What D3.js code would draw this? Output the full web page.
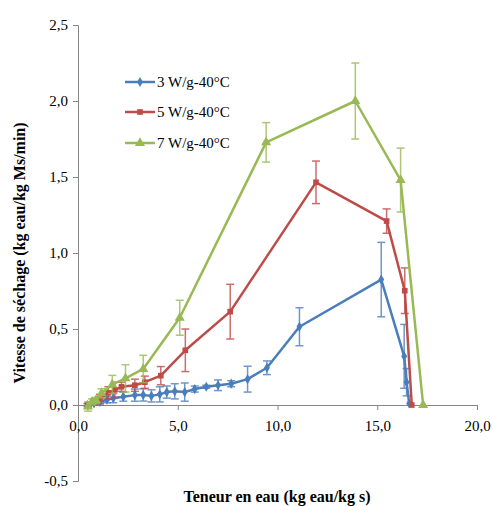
<!DOCTYPE html>
<html><head><meta charset="utf-8">
<script src="https://cdn.jsdelivr.net/npm/d3@7"></script>
<style>
body{margin:0;background:#fff;}
svg text{font-family:"Liberation Serif","Times New Roman",serif !important;fill:#000;}
</style></head>
<body><svg id="c" width="493" height="506"></svg>
<script>
// ---- data ----
const seriesNames = ["3 W/g-40°C", "5 W/g-40°C", "7 W/g-40°C"];
const xTicks = [0, 5, 10, 15, 20];
const yTicks = [-0.5, 0, 0.5, 1.0, 1.5, 2.0, 2.5];

const x3 = [0.47, 0.8, 1.1, 1.45, 1.77, 2.27, 2.85, 3.27, 3.68, 4.1, 4.45, 4.85, 5.35, 5.85, 6.43, 7.02, 7.68, 8.5, 9.47, 11.1, 15.2, 16.35, 16.47, 16.6];
const y3 = [0.0, 0.01, 0.02, 0.035, 0.045, 0.055, 0.065, 0.066, 0.06, 0.07, 0.085, 0.09, 0.085, 0.105, 0.12, 0.13, 0.14, 0.17, 0.245, 0.515, 0.825, 0.32, 0.15, 0.01];
const e3 = [0.01, 0.01, 0.02, 0.02, 0.03, 0.03, 0.04, 0.04, 0.04, 0.05, 0.04, 0.05, 0.06, 0.02, 0.01, 0.035, 0.02, 0.085, 0.045, 0.125, 0.245, 0.21, 0.09, 0];

const x5 = [0.5, 0.8, 1.1, 1.52, 1.85, 2.18, 2.85, 3.35, 4.15, 5.38, 7.63, 11.93, 15.47, 16.38, 16.73];
const y5 = [0.0, 0.02, 0.04, 0.08, 0.1, 0.12, 0.13, 0.15, 0.193, 0.36, 0.614, 1.465, 1.21, 0.752, 0.0];
const e5 = [0.01, 0.02, 0.03, 0.04, 0.05, 0.03, 0.04, 0.04, 0.06, 0.14, 0.18, 0.14, 0.08, 0.15, 0];

const x7 = [0.5, 0.7, 0.9, 1.18, 1.72, 2.38, 3.27, 5.1, 9.43, 13.9, 16.17, 17.3];
const y7 = [-0.01, 0.02, 0.03, 0.077, 0.135, 0.175, 0.237, 0.574, 1.728, 2.0, 1.48, 0.0];
const e7 = [0.03, 0.02, 0.02, 0.03, 0.06, 0.09, 0.09, 0.115, 0.13, 0.25, 0.21, 0];

const colors = ["#4a7ebb", "#be4b48", "#98b954"];
const symbols = [d3.symbolDiamond, d3.symbolSquare, d3.symbolTriangle];
const symSizes = [30, 32, 44];

const series = [
  {xs: x3, ys: y3, es: e3},
  {xs: x5, ys: y5, es: e5},
  {xs: x7, ys: y7, es: e7}
].map((s, i) => ({name: seriesNames[i], color: colors[i], sym: symbols[i], size: symSizes[i],
  pts: s.xs.map((v, j) => ({x: v, y: s.ys[j], e: s.es[j]}))}));

// ---- layout ----
const svg = d3.select("#c");
const x = d3.scaleLinear().domain([0, 20]).range([78, 477]);
const y = d3.scaleLinear().domain([-0.5, 2.5]).range([481, 25]);
const fmt = d => d3.format(".1f")(d).replace(".", ",").replace("−", "-");
const serif = '"Liberation Serif", "Times New Roman", serif';

// y axis
const yAx = svg.append("g").attr("transform", "translate(78,0)")
  .call(d3.axisLeft(y).tickValues(yTicks).tickFormat(fmt).tickSize(5).tickPadding(5));
yAx.attr("font-family", null);
yAx.select(".domain").attr("stroke", "#868686");
yAx.selectAll(".tick line").attr("stroke", "#868686");
yAx.selectAll("text").style("font-size", "15px").style("font-family", serif);

// x axis at y=0
const xAx = svg.append("g").attr("transform", `translate(0,${y(0)})`)
  .call(d3.axisBottom(x).tickValues(xTicks).tickFormat(fmt).tickSize(5).tickPadding(10));
xAx.attr("font-family", null);
xAx.select(".domain").attr("stroke", "#868686");
xAx.selectAll(".tick line").attr("stroke", "#868686");
xAx.selectAll("text").style("font-size", "15px").style("font-family", serif);

// axis titles
svg.append("text").attr("x", 277).attr("y", 502).attr("text-anchor", "middle")
  .style("font-size", "16px").style("font-weight", "bold").style("font-family", serif)
  .text("Teneur en eau (kg eau/kg s)");
svg.append("text").attr("transform", "translate(25,253) rotate(-90)").attr("text-anchor", "middle")
  .style("font-size", "16px").style("font-weight", "bold").style("font-family", serif)
  .text("Vitesse de séchage (kg eau/kg Ms/min)");

// series
const line = d3.line().x(d => x(d.x)).y(d => y(d.y));
series.forEach(s => {
  const g = svg.append("g");
  g.append("path").datum(s.pts).attr("d", line).attr("fill", "none")
    .attr("stroke", s.color).attr("stroke-width", 2.5).attr("stroke-linejoin", "round");
  g.selectAll("path.m").data(s.pts).enter().append("path").attr("class", "m")
    .attr("transform", d => `translate(${x(d.x)},${y(d.y)})`)
    .attr("d", d3.symbol().type(s.sym).size(s.size)).attr("fill", s.color);
  const eb = g.selectAll("g.e").data(s.pts.filter(d => d.e > 0)).enter().append("g")
    .attr("stroke", s.color).attr("stroke-width", 1.5).attr("opacity", 0.8);
  eb.append("line").attr("x1", d => x(d.x)).attr("x2", d => x(d.x))
    .attr("y1", d => y(d.y + d.e)).attr("y2", d => y(d.y - d.e));
  eb.append("line").attr("x1", d => x(d.x) - 4).attr("x2", d => x(d.x) + 4)
    .attr("y1", d => y(d.y + d.e)).attr("y2", d => y(d.y + d.e));
  eb.append("line").attr("x1", d => x(d.x) - 4).attr("x2", d => x(d.x) + 4)
    .attr("y1", d => y(d.y - d.e)).attr("y2", d => y(d.y - d.e));
});

// legend
const legY = [82, 112, 143];
series.forEach((s, i) => {
  const g = svg.append("g").attr("transform", `translate(0,${legY[i]})`);
  g.append("line").attr("x1", 125).attr("x2", 155).attr("stroke", s.color).attr("stroke-width", 2.5);
  g.append("path").attr("transform", "translate(140,0)")
    .attr("d", d3.symbol().type(s.sym).size(s.size)).attr("fill", s.color);
  g.append("text").attr("x", 157).attr("y", 0).attr("dy", "0.35em")
    .style("font-size", "15px").style("font-family", serif).text(s.name);
});
</script></body></html>
